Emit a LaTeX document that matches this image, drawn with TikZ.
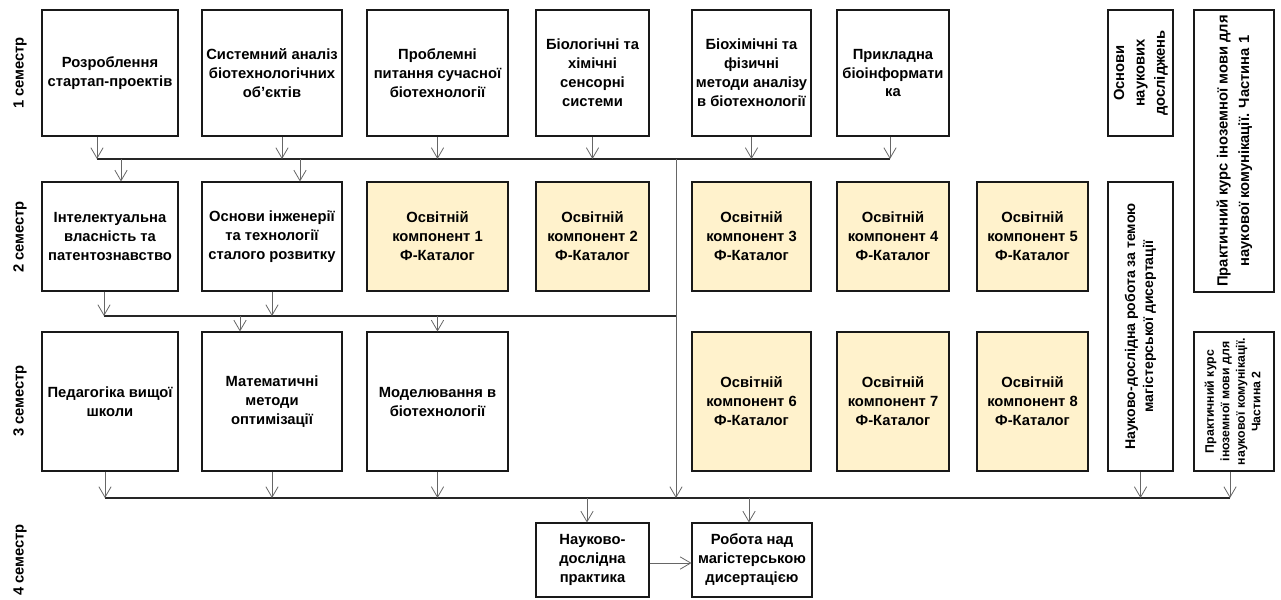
\documentclass[tikz,border=0pt]{standalone}
\usepackage{fontspec}
\setmainfont{Liberation Sans}
\usepackage{tikz}
\usetikzlibrary{positioning, arrows.meta}

\definecolor{okfill}{HTML}{FFF2CC}
\newcommand{\vlab}[1]{\rotatebox{90}{\begin{tabular}{@{}c@{}}#1\end{tabular}}}

\begin{document}
\begin{tikzpicture}[
        x=0.02cm, y=-0.02cm,
        box/.style={rectangle, draw=black!90, line width=0.6pt, fill=white, align=center, inner sep=1pt,
            font=\bfseries\fontsize{8.4}{10.8}\selectfont},
        okbox/.style={box, fill=okfill},
        sz/.style 2 args={minimum width=#1*0.02cm, minimum height=#2*0.02cm},
        sem/.style={rotate=90, font=\bfseries\fontsize{8.4}{10}\selectfont},
        arr/.style={draw=black!60, line width=0.45pt, -{Straight Barb[length=6pt,width=7pt]}},
        bus/.style={draw=black!85, line width=0.75pt}
    ]
    \useasboundingbox (0,0) rectangle (1281,599);

    % semesters
    \node[sem] (sem1) at (20,73) {1 семестр};
    \node[sem] (sem2) at (20,237) {2 семестр};
    \node[sem] (sem3) at (20,401) {3 семестр};
    \node[sem] (sem4) at (20,560) {4 семестр};

    % 1 semester
    \node[box, sz={136}{126}] (startup) at (110,73) {Розроблення\\стартап-проектів};
    \node[box, sz={140}{126}] (sysan) at (272,73) {Системний аналіз\\біотехнологічних\\об'єктів};
    \node[box, sz={141}{126}] (probl) at (437.5,73) {Проблемні\\питання сучасної\\біотехнології};
    \node[box, sz={113}{126}] (biosens) at (592.5,73) {Біологічні та\\хімічні\\сенсорні\\системи};
    \node[box, sz={119}{126}] (biochem) at (751.5,73) {Біохімічні та\\фізичні\\методи аналізу\\в біотехнології};
    \node[box, sz={112}{126}] (bioinf) at (893,73) {Прикладна\\біоінформати\\ка};
    \node[box, sz={65}{126}, font=\bfseries\fontsize{8.4}{11.6}\selectfont] (osnov) at (1140.5,73)
        {\vlab{Основи\\наукових\\досліджень}};
    \node[box, sz={80}{282}, font=\bfseries\fontsize{8.4}{12.3}\selectfont] (prak1) at (1234,151)
        {\vlab{Практичний курс іноземної мови для\\наукової комунікації. Частина 1}};

    % 2 semester
    \node[box, sz={136}{109}] (intel) at (110,236.5) {Інтелектуальна\\власність та\\патентознавство};
    \node[box, sz={140}{109}] (inzh) at (272,236.5) {Основи інженерії\\та технології\\сталого розвитку};
    \node[okbox, sz={141}{109}] (ok1) at (437.5,236.5) {Освітній\\компонент 1\\Ф-Каталог};
    \node[okbox, sz={113}{109}] (ok2) at (592.5,236.5) {Освітній\\компонент 2\\Ф-Каталог};
    \node[okbox, sz={119}{109}] (ok3) at (751.5,236.5) {Освітній\\компонент 3\\Ф-Каталог};
    \node[okbox, sz={112}{109}] (ok4) at (893,236.5) {Освітній\\компонент 4\\Ф-Каталог};
    \node[okbox, sz={111}{109}] (ok5) at (1032.5,236.5) {Освітній\\компонент 5\\Ф-Каталог};
    \node[box, sz={65}{289}, font=\bfseries\fontsize{8}{10.2}\selectfont] (ndr) at (1140.5,326.5)
        {\vlab{Науково-дослідна робота за темою\\магістерської дисертації}};

    % 3 semester
    \node[box, sz={136}{139}] (ped) at (110,401.5) {Педагогіка вищої\\школи};
    \node[box, sz={140}{139}] (matem) at (272,401.5) {Математичні\\методи\\оптимізації};
    \node[box, sz={141}{139}] (model) at (437.5,401.5) {Моделювання в\\біотехнології};
    \node[okbox, sz={119}{139}] (ok6) at (751.5,401.5) {Освітній\\компонент 6\\Ф-Каталог};
    \node[okbox, sz={112}{139}] (ok7) at (893,401.5) {Освітній\\компонент 7\\Ф-Каталог};
    \node[okbox, sz={111}{139}] (ok8) at (1032.5,401.5) {Освітній\\компонент 8\\Ф-Каталог};
    \node[box, sz={80}{139}, font=\bfseries\fontsize{7}{8.8}\selectfont] (prak2) at (1234,401.5)
        {\vlab{Практичний курс\\іноземної мови для\\наукової комунікації.\\Частина 2}};

    % 4 semester
    \node[box, sz={113}{74}] (ndp) at (592.5,560) {Науково-\\дослідна\\практика};
    \node[box, sz={120}{74}] (mag) at (752,560) {Робота над\\магістерською\\дисертацією};

    % buses
    \coordinate (b1w) at (97,159);
    \coordinate (b1e) at (890,159);
    \coordinate (b2w) at (104,316);
    \coordinate (b3w) at (105,498);
    \coordinate (b3e) at (1230,498);
    \coordinate (trk) at (676,159);
    \coordinate (trkb) at (676,498);

    \draw[bus] (b1w) -- (b1e);
    \draw[bus] (b2w) -- (b2w -| trk);
    \draw[bus] (b3w) -- (b3e);
    \draw[arr] (trk) -- (trkb);

    % 1 -> 2
    \draw[arr] (b1w |- startup.south) -- (b1w);
    \draw[arr] ([xshift=0.2cm]sysan.south) -- ([xshift=0.2cm]sysan.south |- b1w);
    \foreach \n in {probl, biosens, biochem}
        \draw[arr] (\n.south) -- (\n.south |- b1w);
    \draw[arr] (b1e |- bioinf.south) -- (b1e);
    \draw[arr] ([xshift=0.22cm]intel.north |- b1w) -- ([xshift=0.22cm]intel.north);
    \draw[arr] ([xshift=0.56cm]inzh.north |- b1w) -- ([xshift=0.56cm]inzh.north);

    % 2 -> 3
    \draw[arr] (b2w |- intel.south) -- (b2w);
    \draw[arr] (inzh.south) -- (inzh.south |- b2w);
    \draw[arr] ([xshift=-0.64cm]matem.north |- b2w) -- ([xshift=-0.64cm]matem.north);
    \draw[arr] (model.north |- b2w) -- (model.north);

    % 3 -> 4
    \draw[arr] (b3w |- ped.south) -- (b3w);
    \foreach \n in {matem, model, ndr}
        \draw[arr] (\n.south) -- (\n.south |- b3w);
    \draw[arr] (b3e |- prak2.south) -- (b3e);
    \draw[arr] ([xshift=-0.11cm]ndp.north |- b3w) -- ([xshift=-0.11cm]ndp.north);
    \draw[arr] ([xshift=-0.06cm]mag.north |- b3w) -- ([xshift=-0.06cm]mag.north);
    \draw[arr] ([yshift=-0.06cm]ndp.east) -- ([yshift=-0.06cm]mag.west);

\end{tikzpicture}
\end{document}
